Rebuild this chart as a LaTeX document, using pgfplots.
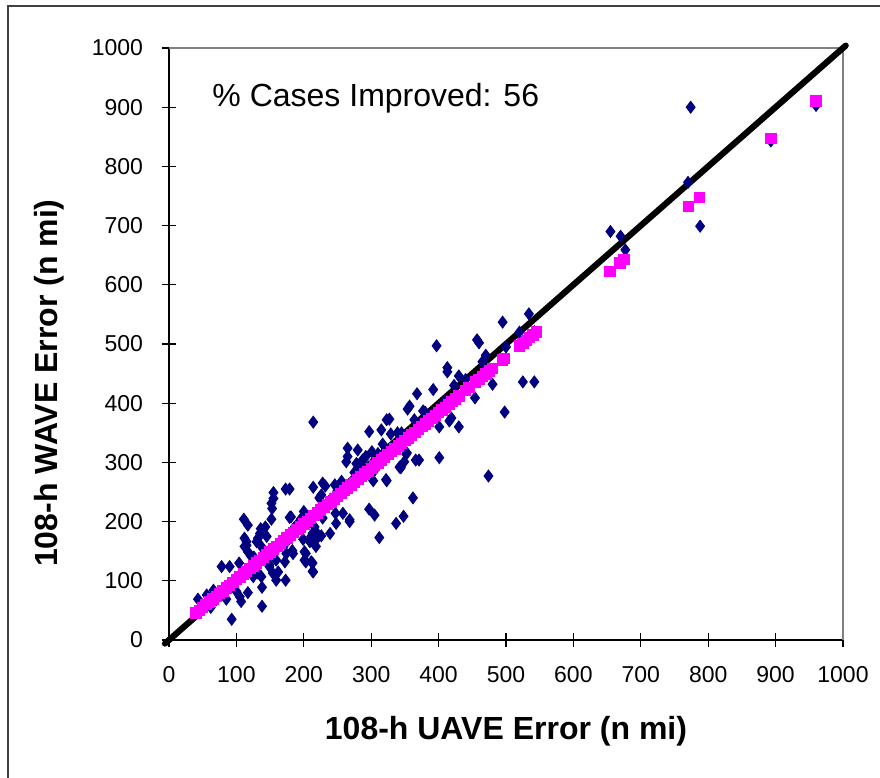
\documentclass[border=0pt]{standalone}
\usepackage{fontspec}
\setmainfont{Liberation Sans}
\usepackage{pgfplots}
\pgfplotsset{compat=1.18}
\definecolor{navy}{RGB}{0,0,128}
\definecolor{mag}{RGB}{255,0,255}
\begin{document}
\begin{tikzpicture}
\useasboundingbox (0,0) rectangle (440pt,389pt);
\draw[line width=1pt,black!75] (4pt,0pt) -- (4pt,386pt) -- (440pt,386pt);
\begin{axis}[
  scale only axis, width=337pt, height=296pt,
  at={(84.5pt,69pt)}, anchor=south west,
  xmin=0, xmax=1000, ymin=0, ymax=1000,
  xtick={0,100,...,1000}, ytick={0,100,...,1000},
  axis x line*=bottom, axis y line*=left,
  axis line style={black, line width=0.6pt},
  tick align=center, major tick length=7pt,
  tick style={black, line width=0.6pt},
  /pgf/number format/assume math mode=true,
  /pgf/number format/1000 sep={},
  tick label style={font=\fontsize{11.5}{13}\selectfont},
  yticklabel style={xshift=-6pt},
  xticklabel style={yshift=-6pt},
  xlabel={\bfseries 108-h UAVE Error (n mi)},
  ylabel={\bfseries 108-h WAVE Error (n mi)},
  label style={font=\fontsize{16}{19}\selectfont},
  xlabel style={at={(axis description cs:0.5,-0.154)}, anchor=center},
  ylabel style={at={(axis description cs:-0.178,0.434)}, anchor=center},
  clip=false,
]
\draw[gray, line width=0.8pt] (rel axis cs:0,1) -- (rel axis cs:1,1) -- (rel axis cs:1,0);
\addplot[only marks, mark=diamond*, mark size=3pt, color=navy] coordinates {
(774,900) (960,903) (893,843) (770,773) (788,699) (655,690) (670,682) (677,659)
(397,497) (457,507) (460,502) (495,537) (534,551) (542,521) (470,481) (413,460)
(413,453) (430,446) (423,430) (392,423) (368,416) (357,395) (354,390) (377,387)
(327,373) (480,432) (454,409) (525,436) (542,436) (498,385) (419,375) (401,360)
(430,360) (364,372) (353,316) (349,301) (344,291) (371,304) (401,308) (474,277)
(362,240) (348,209) (416,370)
(214,258) (228,265) (232,260) (246,262) (226,245) (223,240) (200,217) (181,208)
(247,214) (258,214) (268,200) (248,197) (228,206) (239,180) (226,176) (213,180)
(199,170) (209,166) (201,149) (183,151) (201,135) (211,132) (214,115) (297,221)
(305,211) (312,173) (337,197) (303,269) (323,269)
(214,368) (297,352) (323,372) (315,355) (329,348) (339,350) (265,324) (265,310)
(280,321) (301,318) (292,310) (317,331) (263,301) (278,298) (287,304) (308,292)
(302,282) (322,271) (352,314) (342,292) (366,304) (179,255) (364,352) (280,296)
(173,255) (155,249) (155,239) (152,231) (153,222) (111,204) (117,194) (152,204)
(179,207) (136,188) (143,191) (112,172) (132,172)
(115,166) (78,124) (90,124) (104,130) (43,69) (56,76) (66,84) (85,69) (100,82)
(105,73) (107,65) (117,80) (93,35) (138,57) (138,89) (125,107) (132,113) (149,124)
(159,135) (162,115) (172,132) (174,146) (130,166) (135,180) (145,175) (112,158)
(157,149) (46,48) (115,160) (137,158) (117,149) (122,141) (137,107) (216,191)
(218,183) (211,175) (268,203) (218,169) (218,158) (203,146) (203,132) (213,130)
(213,116) (173,163) (184,146) (149,127) (154,113) (159,101) (173,101)
(60,62) (70,68) (120,118) (150,150) (180,176) (190,195) (240,238) (250,252)
(270,266) (285,290) (300,296) (310,315) (330,325) (345,350) (380,385) (390,380)
(410,405) (440,440) (465,470) (500,495) (520,520) (62,55) (75,80) (95,100)
(126,140) (164,160) (186,190) (196,205) (234,230) (256,268) (275,283) (292,282)
};
\addplot[only marks, mark=square*, mark size=2.6pt, color=mag] coordinates {
(40,45.6) (45,50.3) (50,55) (55,59.7) (60,64.4) (65,69.1) (70,73.8) (75,78.5)
(80,83.2) (85,87.9) (90,92.6) (95,97.3) (100,102) (105,106.7) (110,111.4)
(115,116.1) (120,120.8) (125,125.5) (130,130.2) (135,134.9) (140,139.6)
(145,144.3) (150,149) (155,153.7) (160,158.4) (165,163.1) (170,167.8)
(175,172.5) (180,177.2) (185,181.9) (190,186.6) (195,191.3) (200,196)
(205,200.7) (210,205.4) (215,210.1) (220,214.8) (225,219.5) (230,224.2)
(235,228.9) (240,233.6) (245,238.3) (250,243) (255,247.7) (260,252.4)
(265,257.1) (270,261.8) (275,266.5) (280,271.2) (285,275.9) (290,280.6)
(295,285.3) (300,290) (305,294.7) (310,299.4) (315,304.1) (320,308.8)
(325,313.5) (330,318.2) (335,322.9) (340,327.6) (345,332.3) (350,337)
(355,341.7) (360,346.4) (365,351.1) (370,355.8) (375,360.5) (380,365.2)
(385,369.9) (390,374.6) (395,379.3) (400,384) (405,388.7) (410,393.4)
(415,398.1) (420,402.8) (425,407.5) (430,412.2) (440,421.6) (445,426.3)
(455,435.7) (460,440.4) (465,445.1) (470,449.8) (475,454.5) (480,459.2)
(495,473.3) (498,476.1) (520,496.8) (525,501.5) (530,506.2) (535,510.9)
(540,515.6) (545,520.3) (654,622.8) (669,636.9) (675,642.5) (771,732.7)
(787,747.8) (893,847.4) (960,910.4)
};
\addplot[black, line width=3.1pt, line cap=round, no marks] coordinates {(-6,-6) (1004,1004)};
\node[anchor=west, font=\fontsize{16}{19}\selectfont] at (axis cs:54,916) {\% Cases Improved: 56};
\end{axis}
\end{tikzpicture}
\end{document}
